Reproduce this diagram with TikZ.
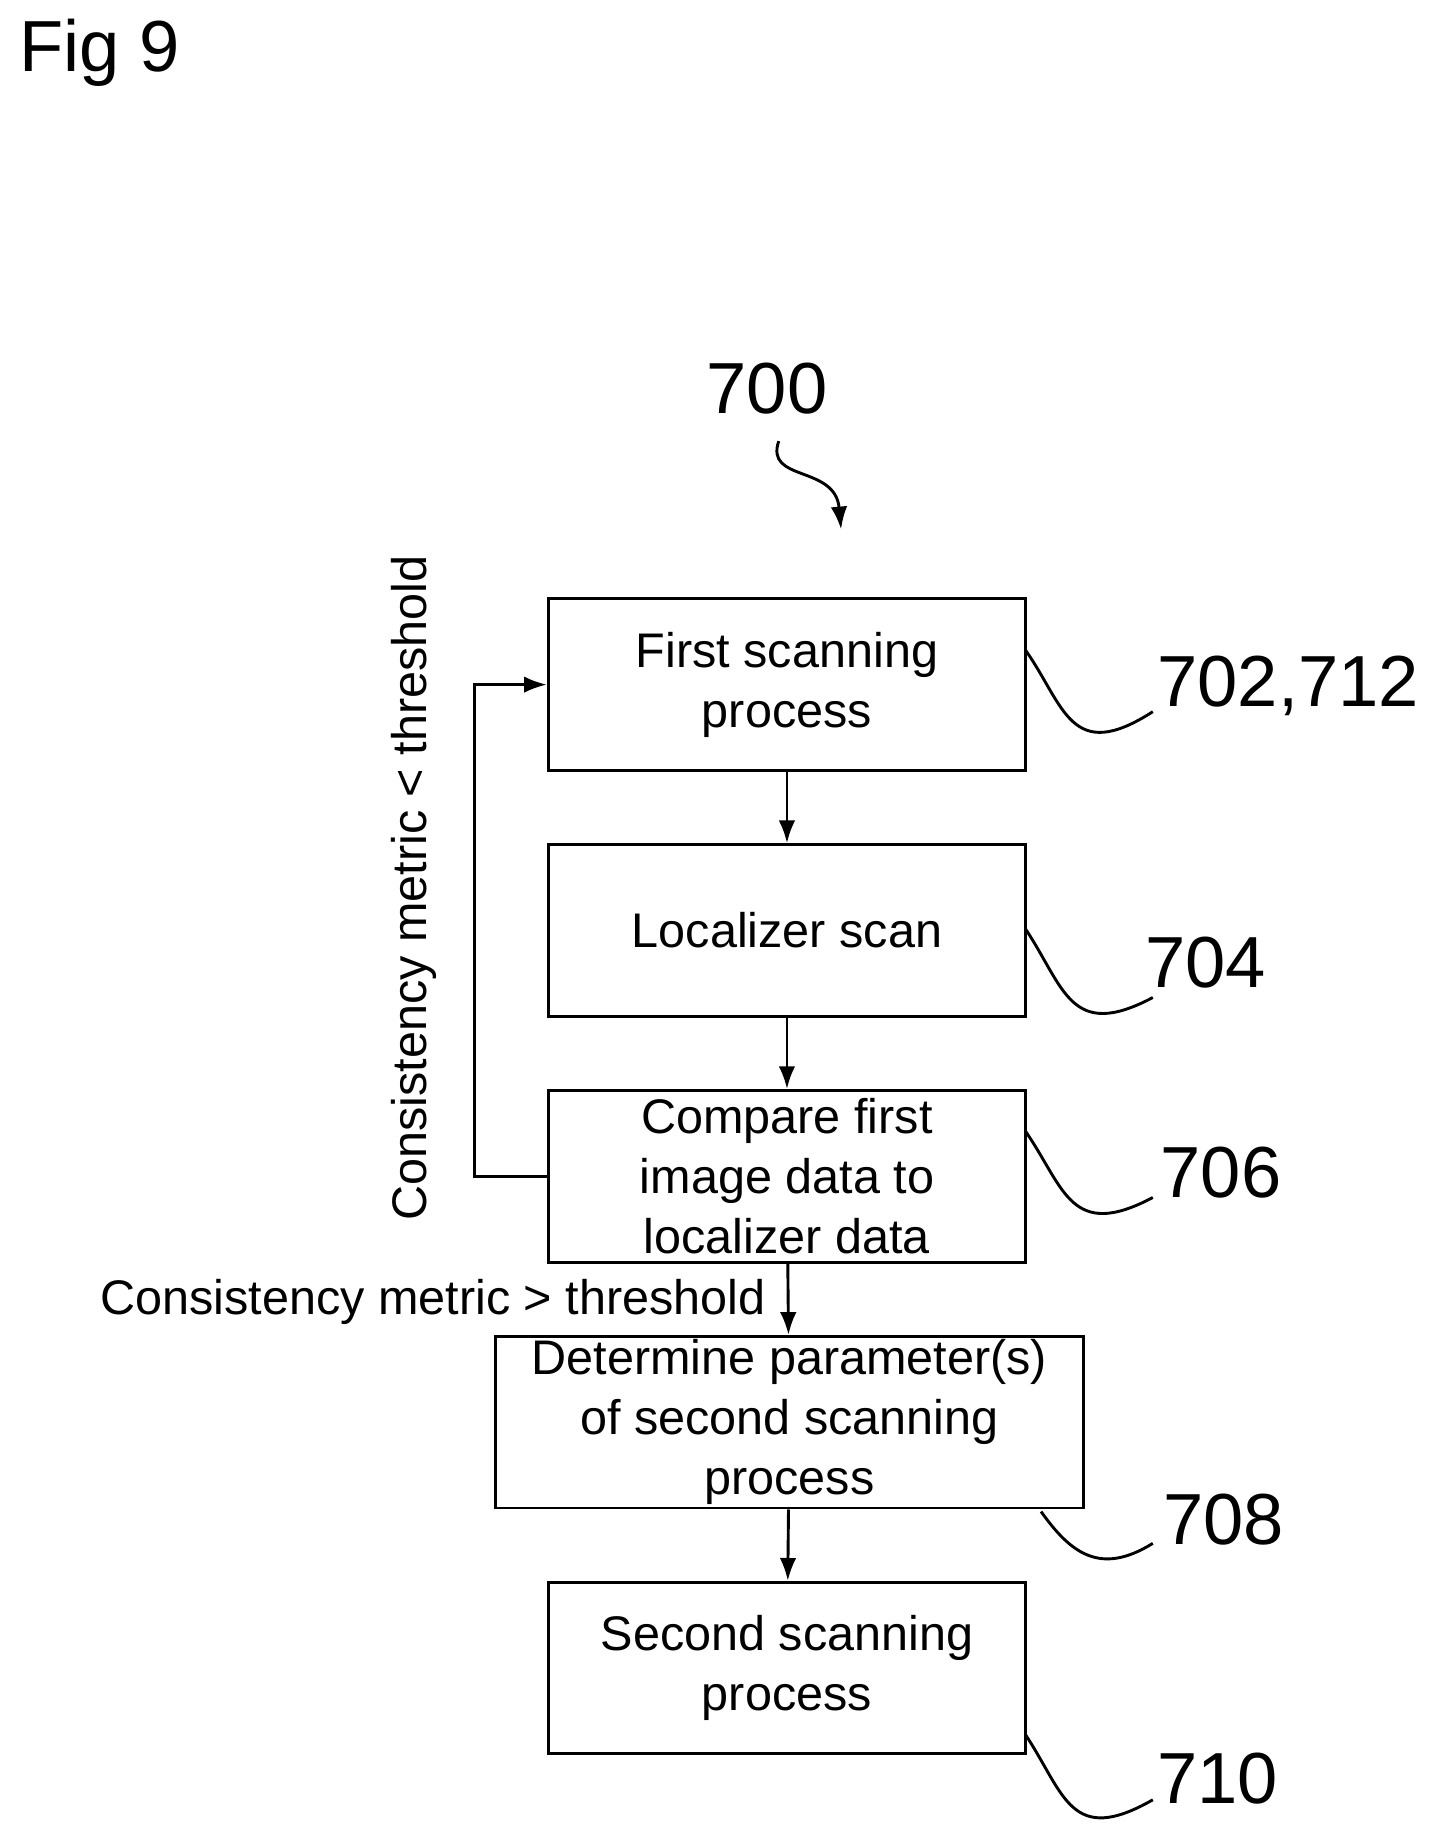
\documentclass[tikz,border=0pt]{standalone}
\usetikzlibrary{arrows.meta}
\usepackage{fontspec}
\setmainfont{Liberation Sans}
\begin{document}
\begin{tikzpicture}[x=0.02cm,y=-0.02cm,
  box/.style={draw,line width=1.4pt,align=center,font=\fontsize{23.5}{29}\selectfont,inner sep=0pt},
  num/.style={font=\fontsize{35}{40}\selectfont},
  arr/.style={-{Latex[length=11pt,width=8pt]},line width=1.4pt},
  lead/.style={line width=1.4pt}]
\useasboundingbox (0,0) rectangle (1227,1571);
\node[num,anchor=west] (fig) at (10,45) {Fig 9};
\node[num] (n700) at (652,330) {700};
\coordinate (s0) at (662,375);
\coordinate (s1) at (715,450);
\draw[arr] (s0) .. controls (650,410) and (710,395) .. (s1);
\node[box,minimum width=8.12cm,minimum height=2.92cm] (b1) at (669,582) {First scanning\\process};
\node[box,minimum width=8.12cm,minimum height=2.92cm] (b2) at (669,791) {Localizer scan};
\node[box,minimum width=8.12cm,minimum height=2.92cm] (b3) at (669,1000) {Compare first\\image data to\\localizer data};
\node[box,minimum width=10cm,minimum height=2.92cm] (b4) at (671,1209) {Determine parameter(s)\\of second scanning\\process};
\node[box,minimum width=8.12cm,minimum height=2.92cm] (b5) at (669,1418) {Second scanning\\process};
\draw[arr] (b1) -- (b2);
\draw[arr] (b2) -- (b3);
\draw[arr] (b3) -- (b4);
\draw[arr] (b4) -- (b5);
\draw[arr] (b3.west) -- (403,1000) -- (403,582) -- (b1.west);
\node[font=\fontsize{23.5}{29}\selectfont,rotate=90] (lt) at (352,755) {Consistency metric < threshold};
\node[font=\fontsize{23.5}{29}\selectfont,anchor=east] (gt) at (657,1107) {Consistency metric > threshold};
\node[num] (n702) at (1095,583) {702,712};
\node[num] (n704) at (1025,818) {704};
\node[num] (n706) at (1038,997) {706};
\node[num] (n708) at (1040,1292) {708};
\node[num] (n710) at (1035,1512) {710};
\draw[lead] (872,553) .. controls (905,600) and (910,650) .. (980,605);
\draw[lead] (872,790) .. controls (905,840) and (910,885) .. (980,848);
\draw[lead] (872,962) .. controls (905,1010) and (910,1055) .. (980,1018);
\draw[lead] (885,1285) .. controls (910,1320) and (935,1340) .. (980,1312);
\draw[lead] (872,1475) .. controls (905,1525) and (910,1570) .. (980,1530);
\end{tikzpicture}
\end{document}
